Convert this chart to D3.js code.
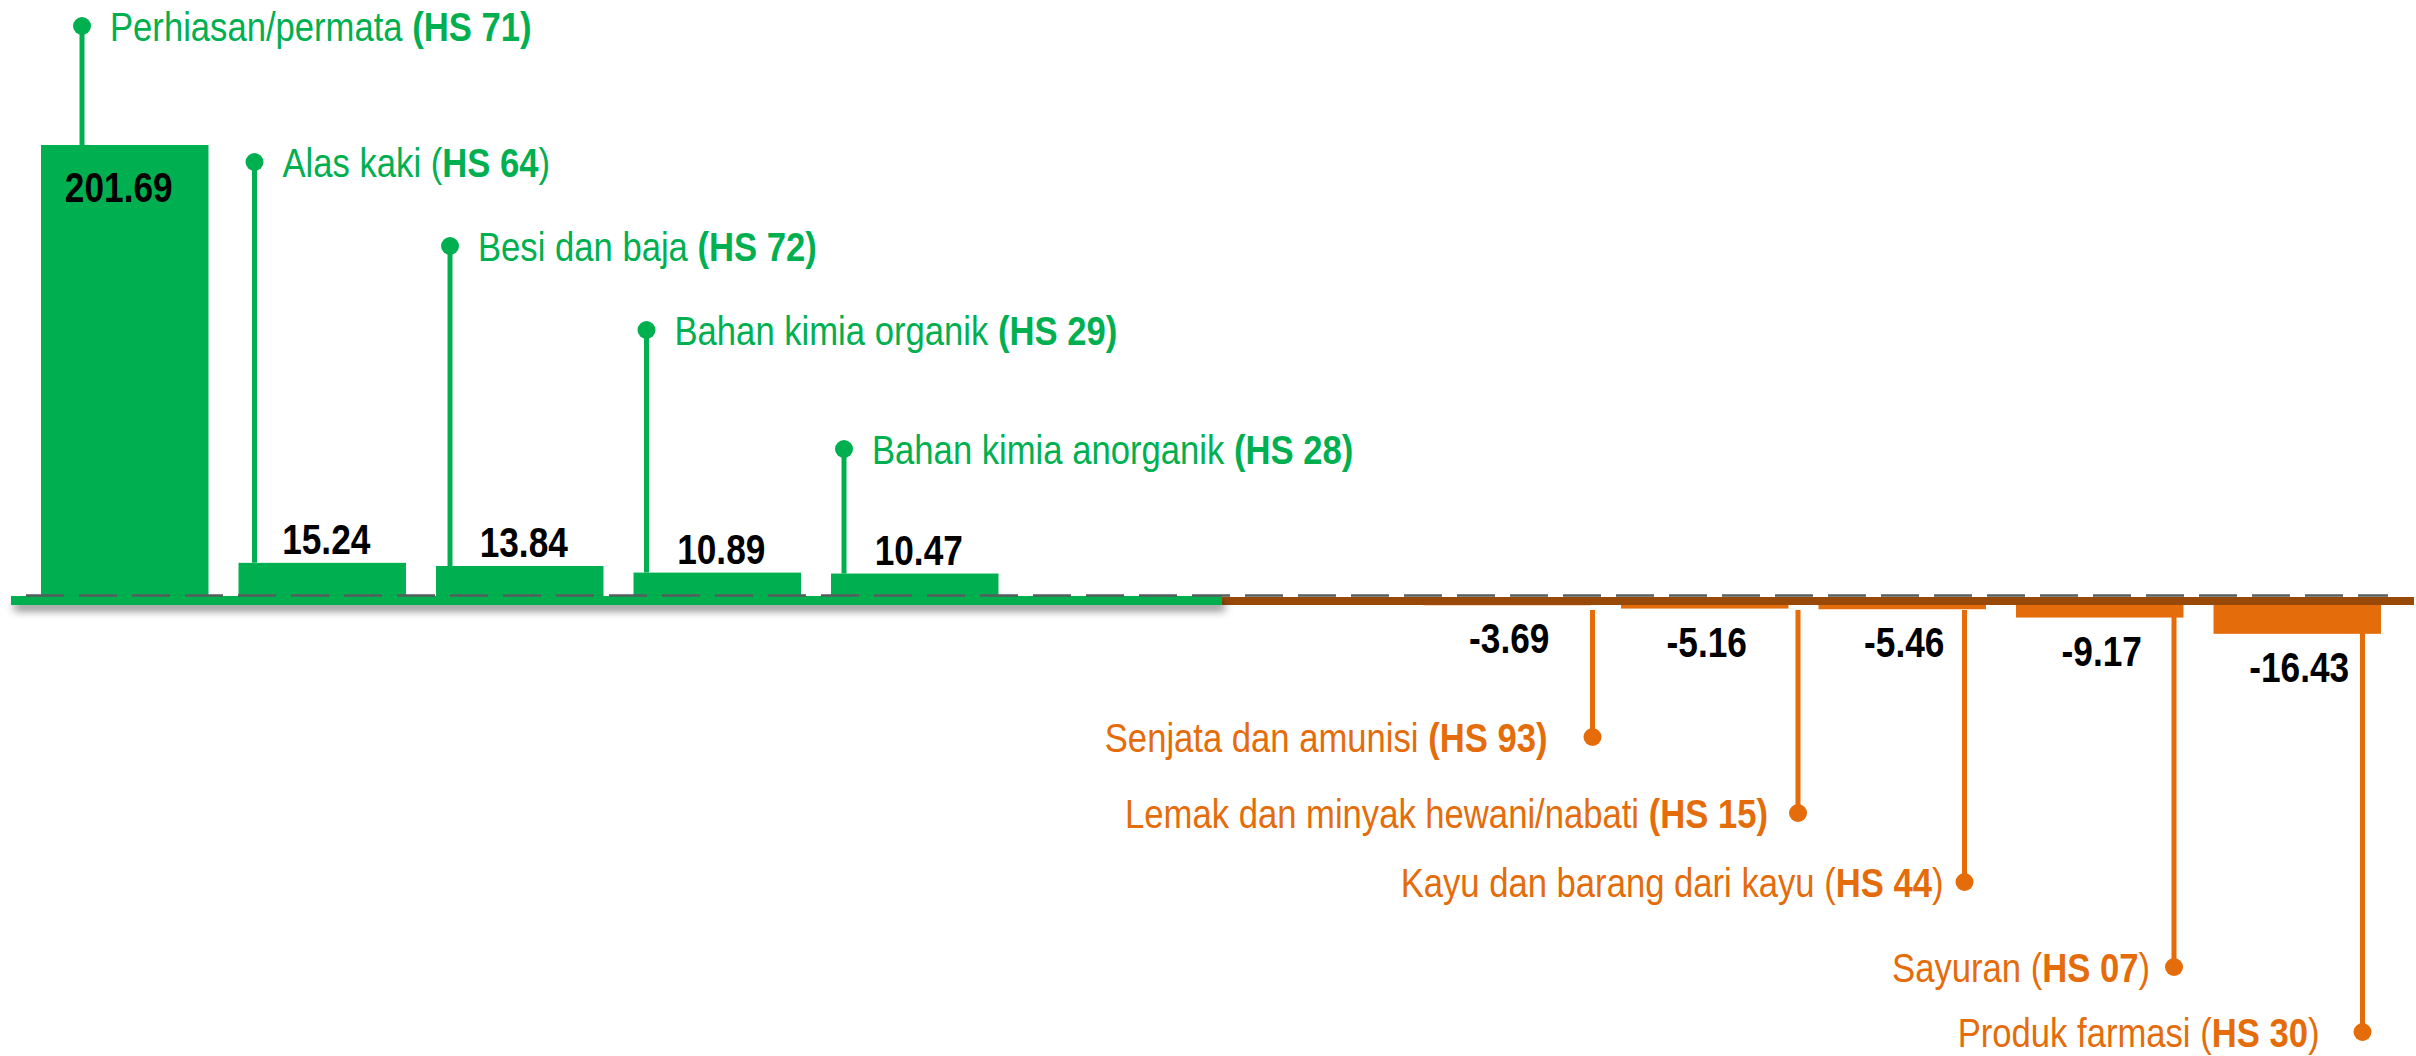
<!DOCTYPE html>
<html>
<head>
<meta charset="utf-8">
<script src="https://cdn.jsdelivr.net/npm/d3@7"></script>
<style>
  html, body { margin: 0; padding: 0; background: #fff; }
  svg { display: block; }
  text { font-family: "Liberation Sans", Arial, sans-serif; }
</style>
</head>
<body>
<script>
// surplus (positive) and deficit (negative) items, HS chapters
const posCats = ["Perhiasan/permata", "Alas kaki", "Besi dan baja", "Bahan kimia organik", "Bahan kimia anorganik"];
const posCodes = ["71", "64", "72", "29", "28"];
const posValues = [201.69, 15.24, 13.84, 10.89, 10.47];

const negCats = ["Senjata dan amunisi", "Lemak dan minyak hewani/nabati", "Kayu dan barang dari kayu", "Sayuran", "Produk farmasi"];
const negCodes = ["93", "15", "44", "07", "30"];
const negValues = [-3.69, -5.16, -5.46, -9.17, -16.43];

// leader line layout (stem offset inside band, dot height, gap to text)
const posStem = [41, 16, 14, 13, 13];
const posDotY = [26, 162, 246, 330, 449];
const negStem = [169, 177, 146, 158, 149];
const negDotY = [737, 813, 882, 967, 1032];
const negGap = [45, 30, 21, 24, 43];
// labels whose brackets are set in bold in the original
const boldBrackets = ["71", "72", "29", "28", "93", "15"];

const W = 2416, H = 1056;
const green = "#00b050", orange = "#e46c0a", brown = "#984807";

const pos = posCats.map((c, i) => ({ cat: c, code: posCodes[i], value: posValues[i], stem: posStem[i], dotY: posDotY[i] }));
const neg = negCats.map((c, i) => ({ cat: c, code: negCodes[i], value: negValues[i], stem: negStem[i], dotY: negDotY[i], gap: negGap[i] }));

// two empty slots between the groups
const domain = [...posCats, "_gap1", "_gap2", ...negCats];

const x = d3.scaleBand()
    .domain(domain)
    .range([26, 2396])
    .paddingInner(0.152)
    .paddingOuter(0.076);

const y = d3.scaleLinear()
    .domain([0, d3.max(posValues)])
    .range([597, 145]);

var svg = d3.select("body").append("svg")
    .attr("width", W)
    .attr("height", H);

var defs = svg.append("defs");
var shadow = defs.append("filter").attr("id", "shadow")
    .attr("x", "-5%").attr("y", "-100%").attr("width", "110%").attr("height", "400%");
shadow.append("feDropShadow")
    .attr("dx", 3).attr("dy", 6)
    .attr("stdDeviation", 4)
    .attr("flood-color", "#000")
    .attr("flood-opacity", 0.45);

// Liberation Sans squeezed to look like Arial Narrow
function place(px, py, sx) {
    return `translate(${px},${py}) scale(${sx},1)`;
}

// bars
svg.append("g").selectAll("rect")
    .data(neg)
    .enter().append("rect")
    .attr("x", d => x(d.cat))
    .attr("y", y(0))
    .attr("width", x.bandwidth())
    .attr("height", d => y(d.value) - y(0))
    .attr("fill", orange);

svg.append("g").selectAll("rect")
    .data(pos)
    .enter().append("rect")
    .attr("x", d => x(d.cat))
    .attr("y", d => y(d.value))
    .attr("width", x.bandwidth())
    .attr("height", d => y(0) - y(d.value))
    .attr("fill", green);

// baseline bands
const split = x("_gap2") - 4;
svg.append("rect")
    .attr("x", split).attr("y", y(0))
    .attr("width", 2414 - split).attr("height", 8)
    .attr("fill", brown);
svg.append("rect")
    .attr("x", 11).attr("y", y(0) - 1)
    .attr("width", split - 11).attr("height", 9)
    .attr("fill", green)
    .attr("filter", "url(#shadow)");

// dashed zero line
svg.append("line")
    .attr("x1", 26).attr("x2", 2388)
    .attr("y1", y(0) - 1.5).attr("y2", y(0) - 1.5)
    .attr("stroke", "#555e5e")
    .attr("stroke-width", 2.5)
    .attr("stroke-dasharray", "38,15");

// value labels
svg.append("g").selectAll("text")
    .data(pos)
    .enter().append("text")
    .attr("transform", d => place(
        x(d.cat) + x.bandwidth() / 2 + (d.value > 100 ? -6 : 4),
        d.value > 100 ? y(d.value) + 57 : y(d.value) - 9, 0.82))
    .attr("text-anchor", "middle")
    .attr("font-size", 43)
    .attr("font-weight", "bold")
    .attr("fill", "#000")
    .text(d => d.value.toFixed(2));

svg.append("g").selectAll("text")
    .data(neg)
    .enter().append("text")
    .attr("transform", d => place(x(d.cat) + x.bandwidth() / 2 + 2, y(d.value) + 48, 0.82))
    .attr("text-anchor", "middle")
    .attr("font-size", 43)
    .attr("font-weight", "bold")
    .attr("fill", "#000")
    .text(d => d.value.toFixed(2));

// leaders: positive
var pl = svg.append("g").selectAll("g")
    .data(pos)
    .enter().append("g");

pl.append("line")
    .attr("x1", d => x(d.cat) + d.stem).attr("x2", d => x(d.cat) + d.stem)
    .attr("y1", d => d.dotY).attr("y2", d => y(d.value))
    .attr("stroke", green).attr("stroke-width", 5);

pl.append("circle")
    .attr("cx", d => x(d.cat) + d.stem)
    .attr("cy", d => d.dotY)
    .attr("r", 9)
    .attr("fill", green);

function addLabel(sel, color) {
    const bw = d => boldBrackets.includes(d.code) ? "bold" : "normal";
    sel.append("tspan").text(d => d.cat + " ");
    sel.append("tspan").attr("font-weight", bw).text("(");
    sel.append("tspan").attr("font-weight", "bold").text(d => "HS " + d.code);
    sel.append("tspan").attr("font-weight", bw).text(")");
    sel.attr("fill", color).attr("font-size", 41);
}

pl.append("text")
    .attr("transform", d => place(x(d.cat) + d.stem + 28, d.dotY + 15, 0.845))
    .call(addLabel, green);

// leaders: negative
var nl = svg.append("g").selectAll("g")
    .data(neg)
    .enter().append("g");

nl.append("line")
    .attr("x1", d => x(d.cat) + d.stem).attr("x2", d => x(d.cat) + d.stem)
    .attr("y1", y(0) + 13).attr("y2", d => d.dotY)
    .attr("stroke", orange).attr("stroke-width", 5);

nl.append("circle")
    .attr("cx", d => x(d.cat) + d.stem)
    .attr("cy", d => d.dotY)
    .attr("r", 9)
    .attr("fill", orange);

nl.append("text")
    .attr("transform", d => place(x(d.cat) + d.stem - d.gap, d.dotY + 15, 0.845))
    .attr("text-anchor", "end")
    .call(addLabel, orange);
</script>
</body>
</html>
